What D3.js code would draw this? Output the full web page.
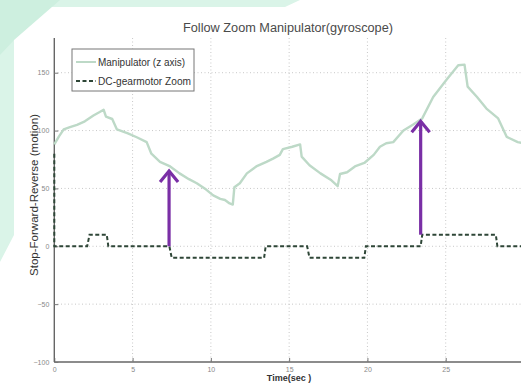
<!DOCTYPE html>
<html><head><meta charset="utf-8">
<script src="https://cdn.jsdelivr.net/npm/d3@7/dist/d3.min.js"></script>
<style>body{margin:0;background:#fff;}svg{display:block;font-family:"Liberation Sans",Arial,sans-serif;}</style>
</head><body>
<svg id="c" width="521" height="383"></svg>
<script>
const title = "Follow Zoom Manipulator(gyroscope)";
const xLabel = "Time(sec )";
const yLabel = "Stop-Forward-Reverse (motion)";
const seriesNames = ["Manipulator (z axis)", "DC-gearmotor Zoom"];
const xTicks = [0, 5, 10, 15, 20, 25];
const yTicks = [150, 100, 50, 0, -50, -100];
const manipT = [0,0.3,0.6,1.0,1.45,1.95,2.5,2.9,3.15,3.3,3.7,4.0,4.7,5.3,5.9,6.2,6.75,7.4,8.0,8.6,9.1,9.7,10.15,10.6,10.9,11.2,11.4,11.5,11.85,12.3,12.9,13.55,14.0,14.4,14.6,15.2,15.7,15.8,16.3,17.0,17.7,18.1,18.25,18.7,19.2,19.8,20.4,20.8,21.2,21.65,22.3,22.9,23.5,24.2,25.05,25.8,26.2,26.4,27.0,27.6,28.35,28.9,29.6,30];
const manipV = [88,95,101,103,105,108,113,116,118,112,110,101,97.5,94,90,80,73,69,63,58,54.5,49,44,41,40,37,36,51,54.5,63,69,73,76,79,84,86,88,77.5,70,63,57,52,62.5,64,69,72,79,86,89,90,100,105,110.5,129,144,156.5,157,138,129,119,110.5,94.5,90,89];
const motorT = [0,0,2.1,2.25,3.35,3.45,7.35,7.5,13.4,13.5,16.15,16.3,19.8,19.9,23.4,23.5,28.2,28.3,30];
const motorV = [80,0,0,10,10,0,0,-10,-10,0,0,-10,-10,0,0,10,10,0,0];
const arrowT = [7.33, 23.4];
const arrowFrom = [0, 10];
const arrowTo = [66, 109];

const svg = d3.select("#c");
// decorative background
svg.append("path").attr("d","M0,0 L300,0 L285,7 L14,7 L14,235 L0,262 Z").attr("fill","#daf4e8");
svg.append("path").attr("d","M0,0 L60,0 L14,40 L0,55 Z").attr("fill","#cdefdf");

const x = d3.scaleLinear().domain([0,30]).range([54.3,524]);
const y = d3.scaleLinear().domain([-100,180]).range([362,38]);

const grid = svg.append("g");
grid.selectAll("line.vx").data(xTicks.filter(d=>d>0)).join("line")
  .attr("x1",d=>x(d)).attr("x2",d=>x(d)).attr("y1",38).attr("y2",362)
  .attr("stroke","#c8c8c8").attr("stroke-dasharray","1,2.5");
grid.selectAll("line.hy").data(yTicks.filter(d=>d>-100)).join("line")
  .attr("x1",54).attr("x2",521).attr("y1",d=>y(d)).attr("y2",d=>y(d))
  .attr("stroke","#c8c8c8").attr("stroke-dasharray","1,2.5");

const xa = svg.append("g").attr("transform","translate(0,362)")
  .call(d3.axisBottom(x).tickValues(xTicks).tickSize(-4).tickPadding(5).tickFormat(d3.format("d")));
const ya = svg.append("g").attr("transform","translate(54.3,0)")
  .call(d3.axisLeft(y).tickValues(yTicks).tickSize(-4).tickPadding(5).tickFormat(d3.format("d")));
[xa,ya].forEach(a=>{
  a.select(".domain").attr("stroke","#666").attr("stroke-width",1.4);
  a.selectAll(".tick line").attr("stroke","#777");
  a.selectAll(".tick text").attr("fill","#888").attr("font-size",7);
});
ya.select(".domain").attr("d","M0,38V362");
xa.select(".domain").attr("d","M54.3,0H521");

const line = d3.line().x(d=>x(d[0])).y(d=>y(d[1]));
svg.append("path").datum(manipT.map((t,i)=>[t,manipV[i]]))
  .attr("d",line).attr("fill","none").attr("stroke","#bdd9c7").attr("stroke-width",2.4).attr("stroke-linejoin","round");
svg.append("path").datum(motorT.map((t,i)=>[t,motorV[i]]))
  .attr("d",line).attr("fill","none").attr("stroke","#2e4637").attr("stroke-width",2).attr("stroke-dasharray","4,2.5");

// arrows
const ag = svg.append("g").attr("stroke","#7a2fa6").attr("stroke-width",3.2).attr("fill","none").attr("stroke-linecap","butt");
arrowT.forEach((t,i)=>{
  const ax = x(t), y0 = y(arrowFrom[i]), y1 = y(arrowTo[i]);
  ag.append("line").attr("x1",ax).attr("x2",ax).attr("y1",y0).attr("y2",y1+1);
  ag.append("path").attr("d",`M${ax-9},${y1+12} L${ax},${y1+1} L${ax+9},${y1+12}`).attr("stroke-linejoin","miter");
});

// legend
const lg = svg.append("g");
lg.append("rect").attr("x",72).attr("y",49).attr("width",122).attr("height",42).attr("fill","#fff").attr("stroke","#777").attr("stroke-width",1);
lg.append("line").attr("x1",76).attr("x2",96).attr("y1",62).attr("y2",62).attr("stroke","#bdd9c7").attr("stroke-width",2);
lg.append("line").attr("x1",76).attr("x2",96).attr("y1",81).attr("y2",81).attr("stroke","#2e4637").attr("stroke-width",2).attr("stroke-dasharray","4,2.5");
lg.append("text").attr("x",98).attr("y",65.5).attr("font-size",10).attr("fill","#333").attr("textLength",87).attr("lengthAdjust","spacingAndGlyphs").text(seriesNames[0]);
lg.append("text").attr("x",98).attr("y",84.5).attr("font-size",10).attr("fill","#333").attr("textLength",93).attr("lengthAdjust","spacingAndGlyphs").text(seriesNames[1]);

svg.append("text").attr("x",288).attr("y",32).attr("text-anchor","middle").attr("font-size",12.5).attr("fill","#4a4a4a").attr("textLength",210).attr("lengthAdjust","spacingAndGlyphs").text(title);
svg.append("text").attr("x",289).attr("y",381).attr("text-anchor","middle").attr("font-size",9).attr("font-weight","bold").attr("fill","#333").text(xLabel);
svg.append("text").attr("transform","translate(38,195) rotate(-90)").attr("text-anchor","middle").attr("font-size",10.5).attr("fill","#333").attr("textLength",162).attr("lengthAdjust","spacingAndGlyphs").text(yLabel);
</script>
</body></html>
